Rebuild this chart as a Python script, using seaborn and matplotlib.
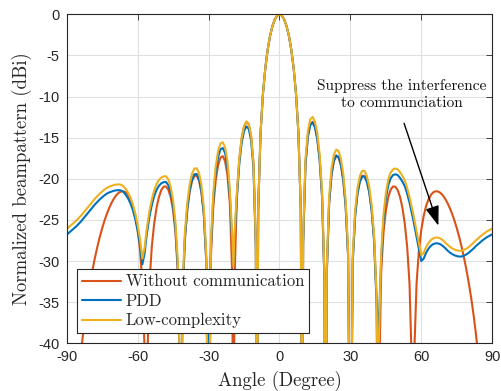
import matplotlib
matplotlib.use("Agg")
import matplotlib.pyplot as plt
import numpy as np
import pandas as pd
import seaborn as sns

# ---------------- data ----------------
angles = [
    -90, -89, -88, -87, -86, -85, -84, -83, -82, -81,
    -80, -79, -78, -77, -76, -75, -74, -73, -72, -71,
    -70, -69, -68, -67, -66, -65, -64, -63, -62, -61,
    -60, -59, -58, -57, -56.44, -56, -55, -54, -53, -52, -51,
    -50, -49, -48, -47, -46, -45, -44, -43, -42, -41.81, -41,
    -40, -39, -38, -37, -36, -35, -34, -33, -32, -31,
    -30, -29, -28, -27, -26, -25, -24, -23, -22, -21,
    -20, -19.47, -19, -18, -17, -16, -15, -14, -13, -12, -11,
    -10, -9.59, -9, -8, -7, -6, -5, -4, -3, -2, -1,
    0, 1, 2, 3, 4, 5, 6, 7, 8, 9, 9.59,
    10, 11, 12, 13, 14, 15, 16, 17, 18, 19, 19.47,
    20, 21, 22, 23, 24, 25, 26, 27, 28, 29,
    30, 31, 32, 33, 34, 35, 36, 37, 38, 39,
    40, 41, 41.81, 42, 43, 44, 45, 46, 47, 48, 49,
    50, 51, 52, 53, 54, 55, 56, 56.44, 57, 58, 59,
    60, 61, 62, 63, 64, 65, 66, 67, 68, 69,
    70, 71, 72, 73, 74, 75, 76, 77, 78, 79,
    80, 81, 82, 83, 84, 85, 86, 87, 88, 89, 90,
]

without_comm = [
    -60, -60, -60, -53.3, -48.3, -44.48, -41.32, -38.66, -36.36, -34.35,
    -32.56, -30.96, -29.53, -28.24, -27.07, -26.02, -25.08, -24.25, -23.54, -22.91,
    -22.39, -21.98, -21.70, -21.54, -21.52, -21.65, -21.98, -22.52, -23.32, -24.49,
    -26.15, -28.61, -32.58, -41.26, -60, -43.1, -32.78, -28.25, -25.47, -23.54, -22.23,
    -21.38, -20.96, -20.93, -21.33, -22.25, -23.84, -26.50, -31.35, -47.0, -60, -34.29,
    -27.35, -23.82, -21.61, -20.30, -19.65, -19.62, -20.24, -21.69, -24.40, -29.84,
    -60, -29.34, -23.42, -20.25, -18.39, -17.43, -17.25, -17.87, -19.55, -22.98,
    -31.52, -60, -32.1, -22.03, -17.64, -15.09, -13.65, -13.07, -13.37, -14.79, -18.13,
    -27.83, -60, -23.65, -14.4, -9.70, -6.56, -4.31, -2.65, -1.45, -0.64, -0.16,
    0, -0.16, -0.64, -1.45, -2.65, -4.31, -6.56, -9.70, -14.4, -23.65, -60,
    -27.83, -18.13, -14.79, -13.37, -13.07, -13.65, -15.09, -17.64, -22.03, -32.1, -60,
    -31.52, -22.98, -19.55, -17.87, -17.25, -17.43, -18.39, -20.25, -23.42, -29.34,
    -60, -29.84, -24.40, -21.69, -20.24, -19.62, -19.65, -20.30, -21.61, -23.82,
    -27.35, -34.29, -60, -47.0, -31.35, -26.50, -23.84, -22.25, -21.33, -20.93, -20.96,
    -21.38, -22.23, -23.54, -25.47, -28.25, -32.78, -43.1, -60, -41.26, -32.58, -28.61,
    -26.15, -24.49, -23.32, -22.52, -21.98, -21.65, -21.52, -21.54, -21.70, -21.98,
    -22.39, -22.91, -23.54, -24.25, -25.08, -26.02, -27.07, -28.24, -29.53, -30.96,
    -32.56, -34.35, -36.36, -38.66, -41.32, -44.48, -48.3, -53.3, -60, -60, -60,
]

pdd = [
    -26.8, -26.55, -26.3, -26.05, -25.8, -25.5, -25.2, -24.85, -24.5, -24.15,
    -23.8, -23.45, -23.1, -22.8, -22.5, -22.25, -22.0, -21.8, -21.65, -21.55,
    -21.45, -21.4, -21.38, -21.42, -21.6, -21.95, -22.4, -23.0, -23.8, -24.9,
    -26.3, -28.0, -30.4, -29.0, -27.5, -26.5, -24.6, -23.2, -22.1, -21.35, -20.85,
    -20.55, -20.41, -20.38, -20.78, -21.7, -23.29, -25.95, -30.8, -46.5, -60, -34.09,
    -27.15, -23.62, -21.41, -20.1, -19.45, -19.42, -20.04, -21.49, -24.2, -29.64,
    -40.5, -28.34, -22.42, -19.25, -17.39, -16.43, -16.25, -16.87, -18.55, -21.98,
    -27.6, -29.9, -27.3, -22.2, -18.19, -15.64, -14.2, -13.62, -13.92, -15.34, -18.68,
    -28.4, -60, -23.65, -14.4, -9.70, -6.56, -4.31, -2.65, -1.45, -0.64, -0.16,
    0, -0.16, -0.64, -1.45, -2.65, -4.31, -6.56, -9.70, -14.4, -23.65, -60,
    -27.9, -18.23, -14.89, -13.47, -13.17, -13.75, -15.19, -17.74, -22.13, -32.2, -60,
    -31.42, -22.88, -19.45, -17.77, -17.15, -17.33, -18.29, -20.15, -23.32, -29.24,
    -60, -29.94, -24.5, -21.79, -20.34, -19.72, -19.75, -20.4, -21.71, -23.92,
    -27.45, -34.4, -39.5, -38.0, -29.9, -25.05, -22.39, -20.8, -19.95, -19.55, -19.45,
    -19.55, -19.9, -20.35, -20.9, -21.8, -22.9, -24.2, -24.8, -25.6, -27.1, -28.6,
    -30.0, -29.7, -29.0, -28.5, -28.15, -27.95, -27.85, -27.85, -27.95, -28.15,
    -28.4, -28.7, -28.95, -29.15, -29.3, -29.4, -29.45, -29.45, -29.35, -29.2,
    -29.0, -28.75, -28.5, -28.2, -27.95, -27.7, -27.45, -27.25, -27.05, -26.9, -26.75,
]

low_complexity = [
    -26.1, -25.85, -25.6, -25.35, -25.1, -24.8, -24.5, -24.15, -23.8, -23.45,
    -23.1, -22.75, -22.4, -22.1, -21.8, -21.55, -21.3, -21.1, -20.95, -20.85,
    -20.75, -20.7, -20.68, -20.72, -20.9, -21.25, -21.7, -22.3, -23.1, -24.2,
    -25.6, -27.3, -29.7, -28.3, -26.8, -25.8, -23.9, -22.5, -21.4, -20.65, -20.15,
    -19.85, -19.71, -19.68, -20.08, -21.0, -22.59, -25.25, -30.1, -46.0, -60, -33.39,
    -26.45, -22.92, -20.71, -19.4, -18.75, -18.72, -19.34, -20.79, -23.5, -28.94,
    -60, -27.64, -21.72, -18.55, -16.69, -15.73, -15.55, -16.17, -17.85, -21.28,
    -26.9, -30.6, -26.6, -21.5, -17.6, -15.05, -13.6, -13.02, -13.33, -14.75, -18.1,
    -27.8, -60, -23.65, -14.4, -9.70, -6.56, -4.31, -2.65, -1.45, -0.64, -0.16,
    0, -0.16, -0.64, -1.45, -2.65, -4.31, -6.56, -9.70, -14.4, -23.65, -60,
    -27.2, -17.53, -14.19, -12.77, -12.47, -13.05, -14.49, -17.04, -21.43, -31.5, -60,
    -30.72, -22.18, -18.75, -17.07, -16.45, -16.63, -17.59, -19.45, -22.62, -28.54,
    -60, -29.24, -23.8, -21.09, -19.64, -19.02, -19.05, -19.7, -21.01, -23.22,
    -26.75, -33.7, -50, -40.0, -29.2, -24.35, -21.69, -20.1, -19.25, -18.85, -18.75,
    -18.85, -19.2, -19.65, -20.2, -21.1, -22.2, -23.5, -24.1, -24.9, -26.4, -27.9,
    -29.3, -29.0, -28.3, -27.8, -27.45, -27.25, -27.15, -27.15, -27.25, -27.45,
    -27.7, -28.0, -28.25, -28.45, -28.6, -28.7, -28.75, -28.75, -28.65, -28.5,
    -28.3, -28.05, -27.8, -27.5, -27.25, -27.0, -26.75, -26.55, -26.35, -26.2, -26.05,
]

series_names = ["Without communication", "PDD", "Low-complexity"]
series_colors = ["#D95319", "#0072BD", "#EDB120"]
x_ticks = [-90, -60, -30, 0, 30, 60, 90]
y_ticks = [-40, -35, -30, -25, -20, -15, -10, -5, 0]
annotation_text = "Suppress the interference\nto communciation"
x_label = "Angle (Degree)"
y_label = "Normalized beampattern (dBi)"

assert len(angles) == len(without_comm) == len(pdd) == len(low_complexity)

df = pd.concat([
    pd.DataFrame({"angle": angles, "dB": vals, "series": name})
    for name, vals in zip(series_names, [without_comm, pdd, low_complexity])
], ignore_index=True)

# ---------------- style ----------------
sns.set_theme(style="white")
plt.rcParams["axes.unicode_minus"] = False
plt.rcParams["font.family"] = ["Liberation Sans", "DejaVu Sans"]
SERIF = ["cmr10", "DejaVu Serif"]

fig = plt.figure(figsize=(5.01, 3.91), dpi=100)
ax = fig.add_axes([0.1331, 0.1220, 0.8495, 0.8414])

sns.lineplot(data=df, x="angle", y="dB", hue="series", hue_order=series_names,
             palette=series_colors, estimator=None, sort=False, linewidth=1.5,
             ax=ax, legend=True)

ax.set_xlim(-90, 90)
ax.set_ylim(-40, 0)
ax.set_xticks(x_ticks)
ax.set_yticks(y_ticks)
ax.set_xticklabels([str(t) for t in x_ticks])
ax.set_yticklabels([str(t) for t in y_ticks])

ax.grid(True, color="#E0E0E0", linewidth=0.8)
ax.set_axisbelow(True)
for sp in ax.spines.values():
    sp.set_color("#262626")
    sp.set_linewidth(0.8)
ax.tick_params(direction="in", length=4, width=0.6, top=True, right=True,
               colors="#262626", labelsize=10.5, pad=5)
for lab in ax.get_xticklabels() + ax.get_yticklabels():
    lab.set_color("#262626")

ax.set_xlabel(x_label, family=SERIF, fontsize=13.5, color="#262626", labelpad=5)
ax.set_ylabel(y_label, family=SERIF, fontsize=13.5, color="#262626", labelpad=5)

handles, labels = ax.get_legend_handles_labels()
leg = ax.legend(handles, labels, loc="lower left", bbox_to_anchor=(0.025, 0.03),
                borderaxespad=0, prop={"family": SERIF, "size": 12.0},
                frameon=True, fancybox=False, framealpha=1, edgecolor="#262626",
                borderpad=0.3, labelspacing=0.25, handlelength=2.3, handletextpad=0.3)
leg.get_frame().set_linewidth(0.8)
for h in leg.get_lines():
    h.set_linewidth(1.5)

ax.annotate("", xy=(67.2, -25.7), xytext=(52.7, -13.25),
            arrowprops=dict(arrowstyle="-|>,head_length=0.8,head_width=0.28",
                            color="black", lw=1.0, shrinkA=0, shrinkB=0,
                            mutation_scale=15))
ax.text(51.7, -9.75, annotation_text, ha="center", va="center",
        family=SERIF, fontsize=11.1, linespacing=1.35, color="#111111")

fig.savefig("out.png", dpi=100)
